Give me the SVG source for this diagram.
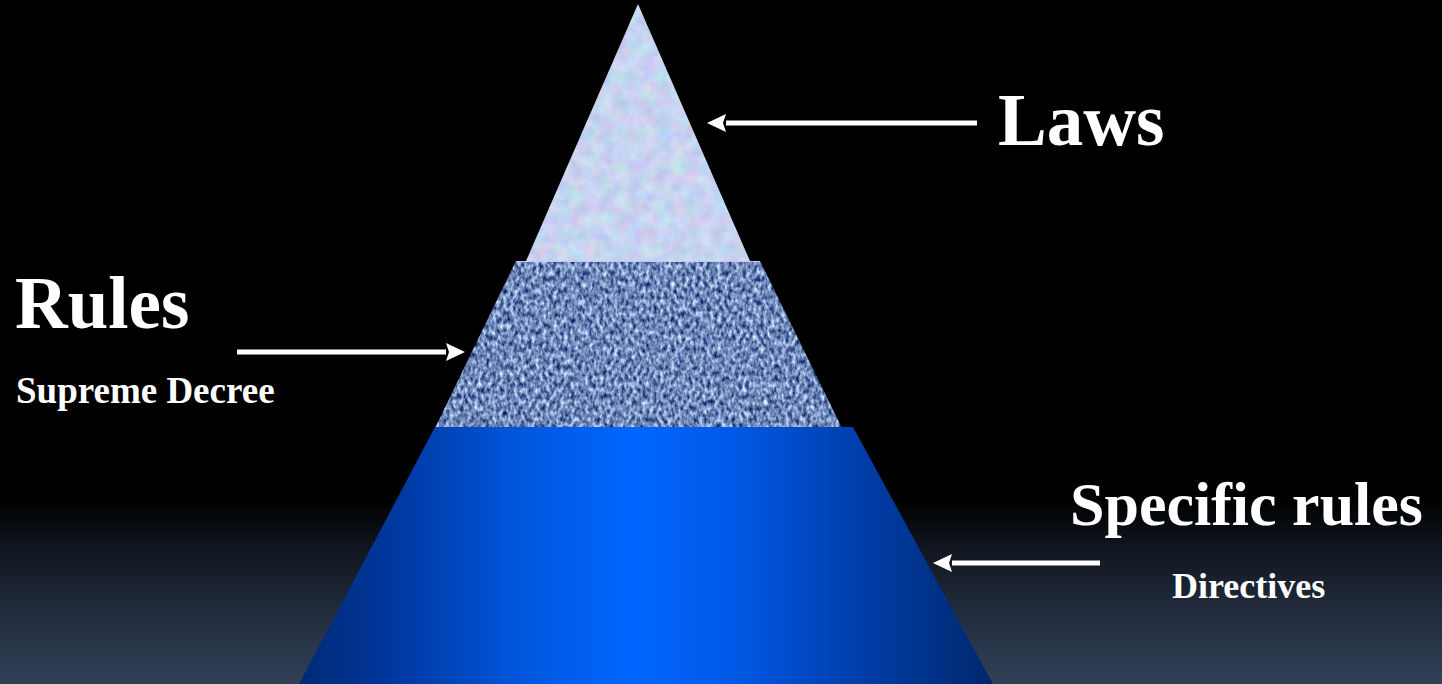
<svg xmlns="http://www.w3.org/2000/svg" width="1442" height="684" viewBox="0 0 1442 684">
  <defs>
    <linearGradient id="bg" x1="0" y1="0" x2="0" y2="684" gradientUnits="userSpaceOnUse">
      <stop offset="0" stop-color="#000000"/>
      <stop offset="0.73" stop-color="#000000"/>
      <stop offset="0.80" stop-color="#10161f"/>
      <stop offset="0.90" stop-color="#222d3e"/>
      <stop offset="1" stop-color="#324159"/>
    </linearGradient>
    <linearGradient id="blue" x1="299" y1="0" x2="993" y2="0" gradientUnits="userSpaceOnUse">
      <stop offset="0" stop-color="#002a74"/>
      <stop offset="0.14" stop-color="#0038a0"/>
      <stop offset="0.32" stop-color="#0057de"/>
      <stop offset="0.48" stop-color="#0066ff"/>
      <stop offset="0.62" stop-color="#005ae8"/>
      <stop offset="0.80" stop-color="#003fad"/>
      <stop offset="1" stop-color="#00276c"/>
    </linearGradient>
    <filter id="frost" x="0" y="0" width="1" height="1" color-interpolation-filters="sRGB">
      <feTurbulence type="fractalNoise" baseFrequency="0.07" numOctaves="3" seed="4" result="n"/>
      <feColorMatrix in="n" type="matrix" values="0.22 0 0 0 0.67  0 0.2 0 0 0.73  0 0 0.12 0 0.88  0 0 0 0 1" result="c"/>
      <feComposite in="c" in2="SourceGraphic" operator="in"/>
    </filter>
    <filter id="denim" x="0" y="0" width="1" height="1" color-interpolation-filters="sRGB">
      <feTurbulence type="fractalNoise" baseFrequency="0.28 0.17" numOctaves="2" seed="7" result="n"/>
      <feColorMatrix in="n" type="matrix" values="1.3 0 0 0 -0.21  1.25 0 0 0 -0.09  1.05 0 0 0 0.2  0 0 0 0 1" result="c"/>
      <feComposite in="c" in2="SourceGraphic" operator="in"/>
    </filter>
    <marker id="head" markerUnits="userSpaceOnUse" markerWidth="19" markerHeight="18" refX="0" refY="9" orient="auto" overflow="visible">
      <path d="M0,0 L19,9 L0,18 L3,9 Z" fill="#ffffff"/>
    </marker>
    <style>
      .lbl { font-family: "Liberation Serif", "Times New Roman", serif; font-weight: bold; fill: #ffffff; }
      .big { font-size: 73px; }
      .mid { font-size: 62px; }
      .small { font-size: 37px; }
      .arrow { stroke: #ffffff; stroke-width: 5; fill: none; marker-end: url(#head); }
    </style>
  </defs>

  <rect id="background" x="0" y="0" width="1442" height="684" fill="url(#bg)"/>

  <g id="level-laws">
    <polygon points="638,4 750,261 526,261" fill="#c8d3f0" filter="url(#frost)"/>
  </g>
  <g id="level-rules">
    <polygon points="516,261 760,261 842,428 435,428" fill="#5a78b2" filter="url(#denim)"/>
    <line x1="516" y1="261.5" x2="760" y2="261.5" stroke="#c0cbea" stroke-width="1"/>
  </g>
  <g id="level-specific">
    <polygon points="435,427 853,427 993,684 299,684" fill="url(#blue)"/>
  </g>

  <g id="connectors">
    <path class="arrow" d="M977,123 L726,123"/>
    <path class="arrow" d="M237,352 L446,352"/>
    <path class="arrow" d="M1100,563 L952,563"/>
  </g>

  <g id="label-laws">
    <text class="lbl big" x="998" y="145">Laws</text>
  </g>
  <g id="label-rules">
    <text class="lbl big" x="15" y="328">Rules</text>
    <text class="lbl small" x="16" y="403">Supreme Decree</text>
  </g>
  <g id="label-specific">
    <text class="lbl mid" x="1070" y="525">Specific rules</text>
    <text class="lbl small" x="1172" y="598" style="font-size:36px">Directives</text>
  </g>
</svg>
